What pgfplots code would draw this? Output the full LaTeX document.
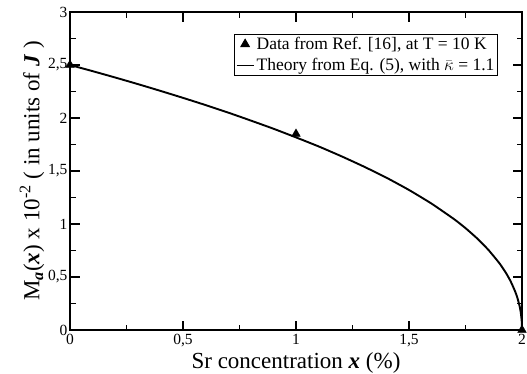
\documentclass[border=0pt]{standalone}
\usepackage{pgfplots}
\pgfplotsset{compat=1.18}
\usepackage{fontspec}
\setmainfont{Liberation Serif}
\newcommand{\bi}[1]{\textbf{\textit{#1}}}
\begin{document}
\begin{tikzpicture}
\begin{axis}[
  scale only axis,
  width=452pt, height=318pt,
  xmin=0, xmax=2, ymin=0, ymax=3,
  xtick={0,0.5,1,1.5,2},
  xticklabels={0,{0,5},1,{1,5},2},
  ytick={0,0.5,1,1.5,2,2.5,3},
  yticklabels={0,{0,5},1,{1,5},2,{2,5},3},
  minor x tick num=1, minor y tick num=1,
  tick align=inside,
  major tick length=9.5pt, minor tick length=5.5pt,
  every tick/.style={black, line width=1.2pt},
  axis line style={line width=1.6pt},
  tick label style={font=\fontsize{15.5}{17}\selectfont},
  xticklabel style={yshift=-0.5pt},
  yticklabel style={xshift=1pt},
  xlabel={Sr concentration \bi{x} (\%)},
  ylabel={M\textsubscript{\bi{a}}(\bi{x}) x 10\textsuperscript{-2} ( in units of \bi{J} )},
  xlabel style={font=\fontsize{23}{25}\selectfont, yshift=1pt},
  ylabel style={font=\fontsize{23}{25}\selectfont, yshift=-3pt},
  legend style={at={(rel axis cs:0.947,0.932)}, anchor=north east,
    font=\fontsize{17.5}{20}\selectfont, draw=black, line width=0.8pt,
    inner sep=1.2pt, row sep=3.5pt, cells={anchor=west}},
  legend cell align=left,
]
\addplot[only marks, mark=triangle*, mark size=5pt, black] coordinates {
  (0,2.5) (1,1.85) (2,0)
};
\addlegendentry{Data from Ref. [16], at T = 10 K}
\addplot[black, line width=1.9pt, smooth, tension=0.3] coordinates {
  (0,2.5) (0.1,2.442) (0.2,2.382) (0.3,2.320) (0.4,2.256) (0.5,2.190)
  (0.6,2.122) (0.7,2.051) (0.8,1.976) (0.9,1.899) (1.0,1.817)
  (1.1,1.732) (1.2,1.640) (1.3,1.542) (1.4,1.437) (1.5,1.321)
  (1.6,1.192) (1.7,1.045) (1.75,0.961) (1.8,0.867) (1.85,0.759)
  (1.9,0.630) (1.93,0.535) (1.95,0.458) (1.97,0.362) (1.98,0.301)
  (1.99,0.219) (1.995,0.159) (1.999,0.076) (2,0)
};
\addlegendentry{Theory from Eq. (5), with $\bar{\kappa}$ = 1.1}
\end{axis}
\pgfresetboundingbox
\path (current axis.south west) ++(-70pt,-43pt) coordinate (bl);
\path (current axis.north east) ++(5pt,12pt) coordinate (tr);
\path (bl) rectangle (tr);
\end{tikzpicture}
\end{document}
